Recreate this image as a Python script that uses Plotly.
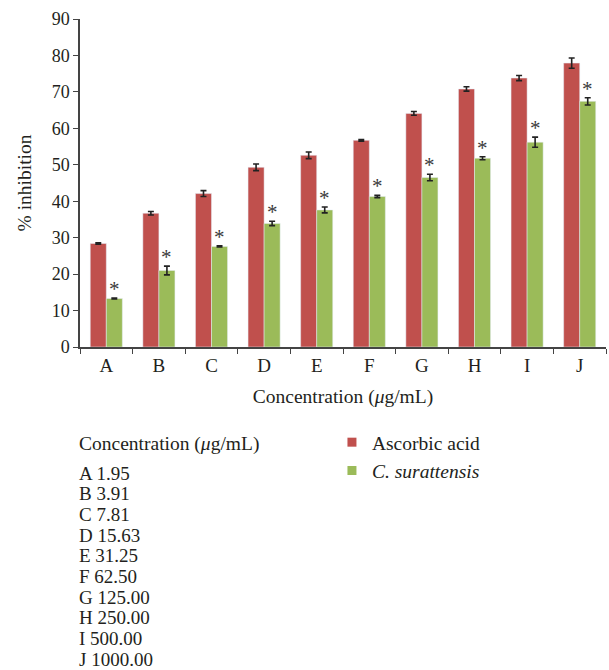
import plotly.graph_objects as go

categories = ["A", "B", "C", "D", "E", "F", "G", "H", "I", "J"]
concentrations = ["1.95", "3.91", "7.81", "15.63", "31.25", "62.50", "125.00", "250.00", "500.00", "1000.00"]
ascorbic = [28.4, 36.7, 42.1, 49.3, 52.6, 56.7, 64.1, 70.8, 73.8, 77.9]
ascorbic_err = [0.2, 0.5, 0.8, 0.9, 0.9, 0.2, 0.5, 0.6, 0.7, 1.4]
surattensis = [13.3, 21.0, 27.6, 33.9, 37.6, 41.3, 46.5, 51.8, 56.2, 67.4]
surattensis_err = [0.1, 1.2, 0.15, 0.6, 0.8, 0.3, 0.9, 0.4, 1.4, 1.0]
key_title = "Concentration (<i>μ</i>g/mL)"

FONT = "Liberation Serif, serif"
TXT = "#231f20"
RED = "#C0504D"
GREEN = "#9BBB59"

# plot area in pixels (used for placing the key text)
PL, PR = 80, 606
PT, PB = 19, 347
PH = PB - PT
PW = PR - PL

def py(pix):
    return (PB - pix) / PH

def px(pix):
    return (pix - PL) / PW

fig = go.Figure()
fig.add_trace(go.Bar(
    x=categories, y=ascorbic, name="Ascorbic acid", marker_color=RED, showlegend=False,
    error_y=dict(type="data", array=ascorbic_err, color="#222222", thickness=1.6, width=3),
))
fig.add_trace(go.Bar(
    x=categories, y=surattensis, name="C. surattensis", marker_color=GREEN, showlegend=False,
    error_y=dict(type="data", array=surattensis_err, color="#222222", thickness=1.6, width=3),
))
# legend entries (small square swatches)
fig.add_trace(go.Scatter(x=[None], y=[None], mode="markers", name="Ascorbic acid",
                         marker=dict(symbol="square", size=9, color=RED), legendgroup="a"))
fig.add_trace(go.Scatter(x=[None], y=[None], mode="markers", name="<i>C. surattensis</i>",
                         marker=dict(symbol="square", size=9, color=GREEN), legendgroup="b"))

for c, v, e in zip(categories, surattensis, surattensis_err):
    fig.add_annotation(x=c, y=v + e, xref="x", yref="y", text="*", showarrow=False,
                       xshift=8, yshift=-5, yanchor="bottom",
                       font=dict(family=FONT, size=21, color="#3a3a3a"))

fig.add_annotation(xref="paper", yref="paper", x=px(77), y=py(444), xanchor="left", yanchor="middle",
                   showarrow=False, text=key_title, font=dict(family=FONT, size=19.5, color=TXT))
for i, (c, v) in enumerate(zip(categories, concentrations)):
    fig.add_annotation(xref="paper", yref="paper", x=px(77), y=py(473 + i * 20.67),
                       xanchor="left", yanchor="middle", showarrow=False,
                       text=f"{c} {v}", font=dict(family=FONT, size=19, color=TXT))

fig.update_layout(
    width=609, height=670,
    margin=dict(l=PL, r=609 - PR, t=PT, b=670 - PB),
    paper_bgcolor="white", plot_bgcolor="white",
    barmode="group", bargap=0.39, bargroupgap=0,
    font=dict(family=FONT, size=18, color=TXT),
    showlegend=True,
    legend=dict(x=0.479, y=py(423), xanchor="left", yanchor="top",
                font=dict(family=FONT, size=19.5, color=TXT),
                traceorder="grouped", tracegroupgap=0, bgcolor="rgba(0,0,0,0)"),
    xaxis=dict(showline=True, linecolor="#444444", linewidth=1.5, ticks="outside",
               tickson="boundaries", ticklen=5, tickcolor="#444444", automargin=False,
               title=dict(text=key_title, font=dict(family=FONT, size=19.5, color=TXT)),
               tickfont=dict(family=FONT, size=19, color=TXT)),
    yaxis=dict(range=[0, 90], dtick=10, showline=True, linecolor="#444444", linewidth=1.5,
               ticks="outside", ticklen=5, tickcolor="#444444", showgrid=False, zeroline=False,
               automargin=False,
               title=dict(text="% inhibition", font=dict(family=FONT, size=19.5, color=TXT)),
               tickfont=dict(family=FONT, size=18, color=TXT)),
)

fig.write_html("out.html", config={"displayModeBar": False},
               post_script="document.body.style.margin='0';document.body.style.overflow='hidden';")
